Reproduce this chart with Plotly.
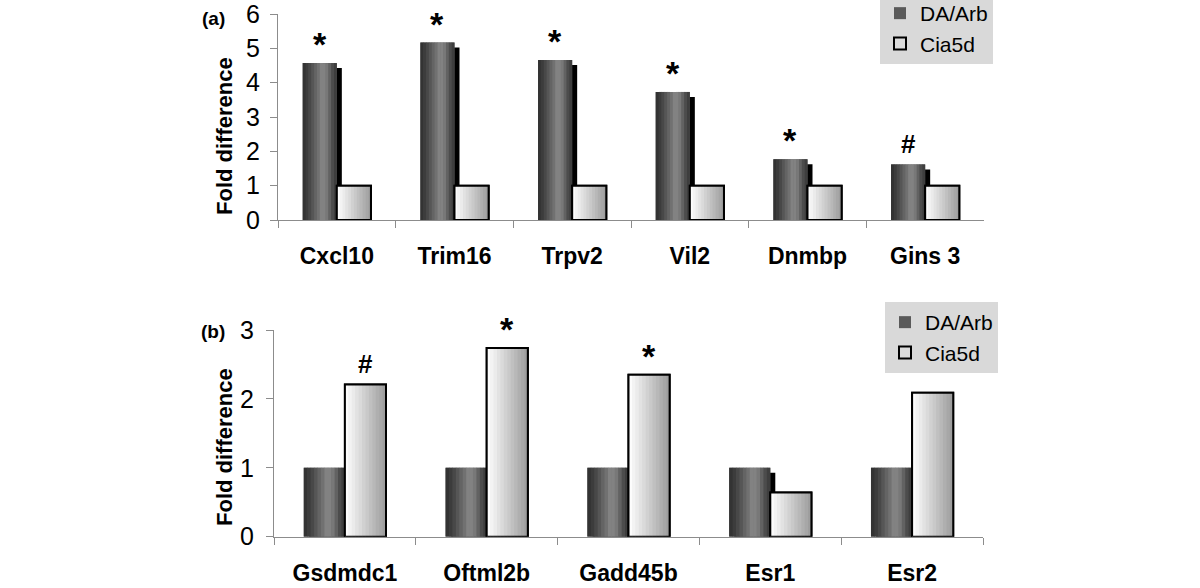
import plotly.graph_objects as go

# ---------------- data ----------------
genes_a = ["Cxcl10", "Trim16", "Trpv2", "Vil2", "Dnmbp", "Gins 3"]
da_arb_a = [4.57, 5.17, 4.66, 3.73, 1.77, 1.62]
cia5d_a = [1, 1, 1, 1, 1, 1]
marks_a = ["*", "*", "*", "*", "*", "#"]          # placed over DA/Arb bars

genes_b = ["Gsdmdc1", "Oftml2b", "Gadd45b", "Esr1", "Esr2"]
da_arb_b = [1, 1, 1, 1, 1]
cia5d_b = [2.21, 2.74, 2.35, 0.64, 2.09]
marks_b = ["#", "*", "*", "", ""]                 # placed over Cia5d bars

yticks_a = [0, 1, 2, 3, 4, 5, 6]
yticks_b = [0, 1, 2, 3]

# ---------------- style / geometry ----------------
W, H = 1200, 588
FONT = "Liberation Sans, Arial, sans-serif"
BAR_W = 0.29
N_SL = 12

# pixel geometry of each panel: (x_left, x_right, y_zero, y_top, ymax)
GEO_A = (278, 984, 220, 14, 6)
GEO_B = (274, 983, 536.7, 330, 3)


def hexgray(v):
    v = int(round(max(0, min(255, v))))
    return "#%02x%02x%02x" % (v, v, v)


DA_LEVELS = [0x33, 0x3c, 0x48, 0x56, 0x64, 0x71, 0x7b, 0x82, 0x82, 0x78, 0x62, 0x4c, 0x3e, 0x38]
DA_GRAD = [hexgray(DA_LEVELS[int(i * len(DA_LEVELS) / N_SL)]) for i in range(N_SL)]
CIA_GRAD = [hexgray(252 - (252 - 158) * (i / (N_SL - 1))) for i in range(N_SL)]

fig = go.Figure()


def add_panel(genes, da, cia, marks, mark_on, ax, geo, legend_name):
    xl, xr, y0, yt, ymax = geo
    n = len(genes)
    px_cat = (xr - xl) / n
    px_unit = (y0 - yt) / ymax
    xa = "x" if ax == 1 else "x2"
    ya = "y" if ax == 1 else "y2"
    common = dict(x=genes, xaxis=xa, yaxis=ya, hoverinfo="skip")

    # drop shadow behind DA/Arb bars
    dx = 5 / px_cat
    dy = 5 / px_unit
    fig.add_trace(go.Bar(y=[v - dy for v in da], width=[BAR_W] * n, offset=-BAR_W + dx,
                         marker=dict(color="black", line=dict(width=0)),
                         showlegend=False, **common))

    # DA/Arb base (legend) + gradient slices
    fig.add_trace(go.Bar(y=da, width=[BAR_W] * n, offset=-BAR_W, name="DA/Arb",
                         marker=dict(color="#5a5a5a", line=dict(width=0)),
                         legend=legend_name, showlegend=True, **common))
    sw = BAR_W / N_SL
    for i in range(N_SL):
        wdt = sw + (0.004 if i < N_SL - 1 else 0)
        fig.add_trace(go.Bar(y=da, width=[wdt] * n, offset=-BAR_W + i * sw,
                             marker=dict(color=DA_GRAD[i], line=dict(width=0)),
                             showlegend=False, **common))

    # Cia5d base (legend) + gradient slices + border
    fig.add_trace(go.Bar(y=cia, width=[BAR_W] * n, offset=0, name="Cia5d",
                         marker=dict(color="#dcdcdc", line=dict(width=2, color="black")),
                         legend=legend_name, showlegend=True, **common))
    for i in range(N_SL):
        wdt = sw + (0.004 if i < N_SL - 1 else 0)
        fig.add_trace(go.Bar(y=cia, width=[wdt] * n, offset=i * sw,
                             marker=dict(color=CIA_GRAD[i], line=dict(width=0)),
                             showlegend=False, **common))
    fig.add_trace(go.Bar(y=cia, width=[BAR_W] * n, offset=0,
                         marker=dict(color="rgba(0,0,0,0)", line=dict(width=2, color="black")),
                         showlegend=False, **common))

    # significance marks
    vals = da if mark_on == "da" else cia
    shift = -BAR_W / 2 * px_cat if mark_on == "da" else BAR_W / 2 * px_cat
    for g, v, m in zip(genes, vals, marks):
        if not m:
            continue
        size = 34 if m == "*" else 26
        fig.add_annotation(x=g, y=v, xref=xa, yref=ya, text="<b>%s</b>" % m,
                           showarrow=False, xanchor="center", yanchor="bottom",
                           xshift=shift, yshift=-2 if m == "*" else 3,
                           font=dict(family=FONT, size=size, color="black"))


add_panel(genes_a, da_arb_a, cia5d_a, marks_a, "da", 1, GEO_A, "legend")
add_panel(genes_b, da_arb_b, cia5d_b, marks_b, "cia", 2, GEO_B, "legend2")


def xdom(geo):
    return [geo[0] / W, geo[1] / W]


def ydom(geo):
    return [(H - geo[2]) / H, (H - geo[3]) / H]


axis_common = dict(showline=True, linecolor="#8c8c8c", linewidth=1, ticks="outside",
                   tickcolor="#8c8c8c", ticklen=7, tickwidth=1, showgrid=False,
                   zeroline=False, fixedrange=True, ticklabeloverflow="allow")
xfont = dict(family=FONT, size=23, color="black", weight="bold")
yfont = dict(family=FONT, size=25, color="black")

fig.update_layout(
    width=W, height=H,
    margin=dict(l=0, r=0, t=0, b=0, pad=0, autoexpand=False),
    paper_bgcolor="white", plot_bgcolor="white",
    barmode="overlay",
    font=dict(family=FONT, color="black"),
    xaxis=dict(domain=xdom(GEO_A), anchor="y", range=[-0.5, len(genes_a) - 0.5],
               tickson="boundaries", tickfont=xfont, ticklabelstandoff=15, **axis_common),
    yaxis=dict(domain=ydom(GEO_A), anchor="x", range=[0, GEO_A[4]], tickvals=yticks_a,
               tickfont=yfont, ticklabelstandoff=5, **axis_common),
    xaxis2=dict(domain=xdom(GEO_B), anchor="y2", range=[-0.5, len(genes_b) - 0.5],
                tickson="boundaries", tickfont=xfont, ticklabelstandoff=16, **axis_common),
    yaxis2=dict(domain=ydom(GEO_B), anchor="x2", range=[0, GEO_B[4]], tickvals=yticks_b,
                tickfont=yfont, ticklabelstandoff=7, **axis_common),
    legend=dict(x=880 / W, y=1 + 7 / H, xanchor="left", yanchor="top", bgcolor="#d9d9d9",
                font=dict(family=FONT, size=21, color="black"), itemwidth=30,
                traceorder="normal"),
    legend2=dict(x=885 / W, y=1 - 302 / H, xanchor="left", yanchor="top", bgcolor="#d9d9d9",
                 font=dict(family=FONT, size=21, color="black"), itemwidth=30,
                 traceorder="normal"),
)

# axis titles and panel labels
for yc in [(H - 136) / H, (H - 447) / H]:
    fig.add_annotation(x=224 / W, y=yc, xref="paper", yref="paper", text="<b>Fold difference</b>",
                       textangle=-90, showarrow=False, xanchor="center", yanchor="middle",
                       font=dict(family=FONT, size=22, color="black"))
for txt, yc in [("(a)", (H - 19) / H), ("(b)", (H - 331) / H)]:
    fig.add_annotation(x=213 / W, y=yc, xref="paper", yref="paper", text="<b>%s</b>" % txt,
                       showarrow=False, xanchor="center", yanchor="middle",
                       font=dict(family=FONT, size=19, color="black"))

fig.write_html("out.html", config={"displayModeBar": False},
               post_script="document.body.style.margin='0px';document.body.style.overflow='hidden';")
